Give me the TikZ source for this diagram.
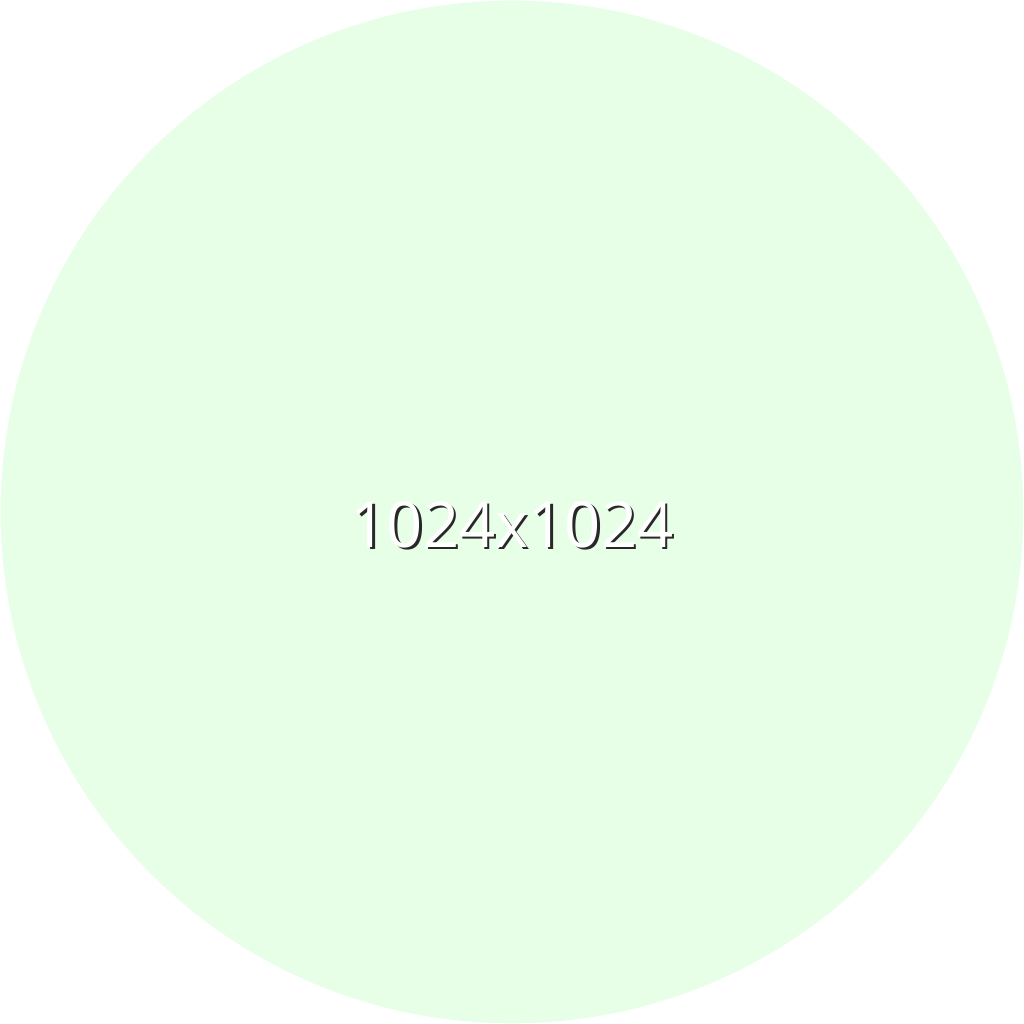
\documentclass[tikz,border=0pt]{standalone}
\usepackage{fontspec}
\setmainfont{Open Sans}
\definecolor{circfill}{RGB}{231,255,231}
\definecolor{shadowc}{RGB}{40,40,40}
\tikzset{
  disc/.style={fill=circfill, draw=none},
  lbl/.style={font=\fontsize{18}{20}\selectfont, inner sep=0pt},
}
\begin{document}
\begin{tikzpicture}[x=0.01cm,y=-0.01cm]
\useasboundingbox (0,0) rectangle (1024,1024);
\fill[white] (0,0) rectangle (1024,1024);
\node[disc, circle, minimum size=10.22cm, inner sep=0pt] (c) at (512,512) {};
\node[lbl, text=shadowc] (s) at (514.5,526.5) {1024x1024};
\node[lbl, text=white] (t) at (c.center) [yshift=-0.13cm] {1024x1024};
\end{tikzpicture}
\end{document}
